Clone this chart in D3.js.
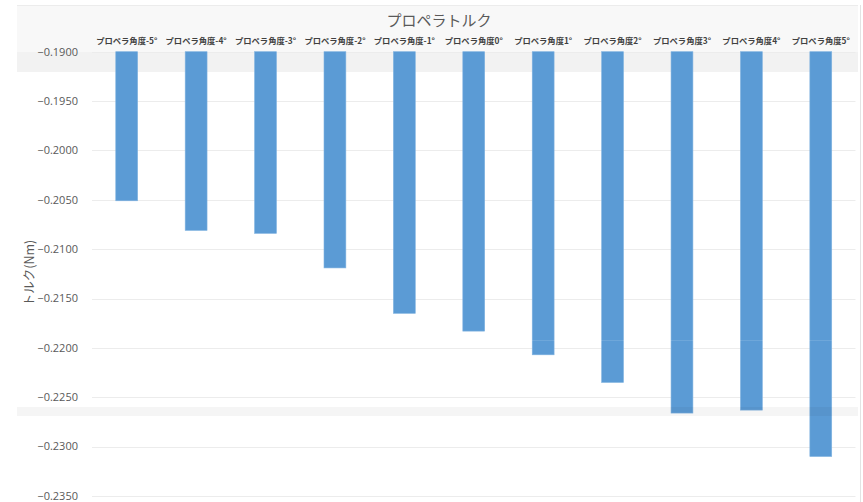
<!DOCTYPE html>
<html>
<head>
<meta charset="utf-8">
<script src="https://cdn.jsdelivr.net/npm/d3@7"></script>
<style>
  html, body { margin: 0; padding: 0; background: #ffffff; }
  svg { display: block; font-family: "Noto Sans CJK JP", "Noto Sans", sans-serif; }
</style>
</head>
<body>
<svg id="chart" width="863" height="502"></svg>
<script>
const categories = ["プロペラ角度-5°", "プロペラ角度-4°", "プロペラ角度-3°", "プロペラ角度-2°", "プロペラ角度-1°",
  "プロペラ角度0°", "プロペラ角度1°", "プロペラ角度2°", "プロペラ角度3°", "プロペラ角度4°", "プロペラ角度5°"];
const torque = [-0.2051, -0.2081, -0.2084, -0.2119, -0.2165, -0.2183, -0.2207, -0.2235, -0.2266, -0.2263, -0.2310];
const yTicks = [-0.1900, -0.1950, -0.2000, -0.2050, -0.2100, -0.2150, -0.2200, -0.2250, -0.2300, -0.2350];
const title = "プロペラトルク";
const yTitle = "トルク(Nm)";

const svg = d3.select("#chart");
const W = 863, H = 502;
const m = { left: 92, right: 863 - 855.5, top: 51.7, bottom: 502 - 496 };

const x = d3.scaleBand().domain(categories).range([m.left, W - m.right]).paddingInner(0.685).paddingOuter(0.3425);
const y = d3.scaleLinear().domain([-0.19, -0.235]).range([m.top, H - m.bottom]);

// background screenshot band at top
svg.append("rect").attr("x", 17).attr("y", 5).attr("width", 841).attr("height", 67).attr("fill", "#f8f8f8");
svg.append("line").attr("x1", 17).attr("x2", 858).attr("y1", 5.5).attr("y2", 5.5).attr("stroke", "#ececec");
svg.append("rect").attr("x", 17).attr("y", 52).attr("width", 841).attr("height", 20).attr("fill", "#f2f2f2");

// gridlines
svg.append("g").selectAll("line").data(yTicks).join("line")
  .attr("x1", m.left).attr("x2", W - m.right)
  .attr("y1", d => Math.round(y(d)) + 0.5).attr("y2", d => Math.round(y(d)) + 0.5)
  .attr("stroke", "#ececec").attr("stroke-width", 1);

// y axis labels
const yAxis = d3.axisLeft(y).tickValues(yTicks).tickFormat(d3.format(".4f")).tickSize(0).tickPadding(14);
const gy = svg.append("g").attr("transform", `translate(${m.left},0)`).call(yAxis);
gy.select(".domain").remove();
gy.selectAll("text").attr("fill", "#595959").attr("font-size", 11)
  .attr("font-family", "'Open Sans', 'Noto Sans', sans-serif").attr("dy", "0.3em");

// category labels at top
const xAxis = d3.axisTop(x).tickSize(0).tickPadding(0);
const gx = svg.append("g").attr("transform", `translate(0,${m.top - 8})`).call(xAxis);
gx.select(".domain").remove();
gx.selectAll("text").attr("fill", "#404040").attr("font-size", 8.3).attr("font-weight", "bold")
  .attr("font-family", "'Noto Sans CJK JP', sans-serif");

// bars
svg.append("g").selectAll("rect").data(torque).join("rect")
  .attr("x", (d, i) => x(categories[i]))
  .attr("width", x.bandwidth())
  .attr("y", y(-0.19))
  .attr("height", d => y(d) - y(-0.19))
  .attr("fill", "#5b9bd5")
  .attr("stroke", "#7fb2e0").attr("stroke-width", 0.6);

// translucent screenshot seam band lower
svg.append("rect").attr("x", 17).attr("y", 407).attr("width", 841).attr("height", 9).attr("fill", "rgba(0,0,0,0.04)");
svg.append("line").attr("x1", 17).attr("x2", 858).attr("y1", 340.5).attr("y2", 340.5).attr("stroke", "rgba(255,255,255,0.12)");

// right border line
svg.append("line").attr("x1", 860.5).attr("x2", 860.5).attr("y1", 5).attr("y2", H).attr("stroke", "#e3e3e3");

// title
svg.append("text").attr("x", 439).attr("y", 26).attr("text-anchor", "middle")
  .attr("font-size", 15).attr("fill", "#595959").text(title);

// y title
svg.append("text").attr("transform", "translate(34,273) rotate(-90)").attr("text-anchor", "middle")
  .attr("font-size", 12.5).attr("fill", "#595959").text(yTitle);
</script>
</body>
</html>
